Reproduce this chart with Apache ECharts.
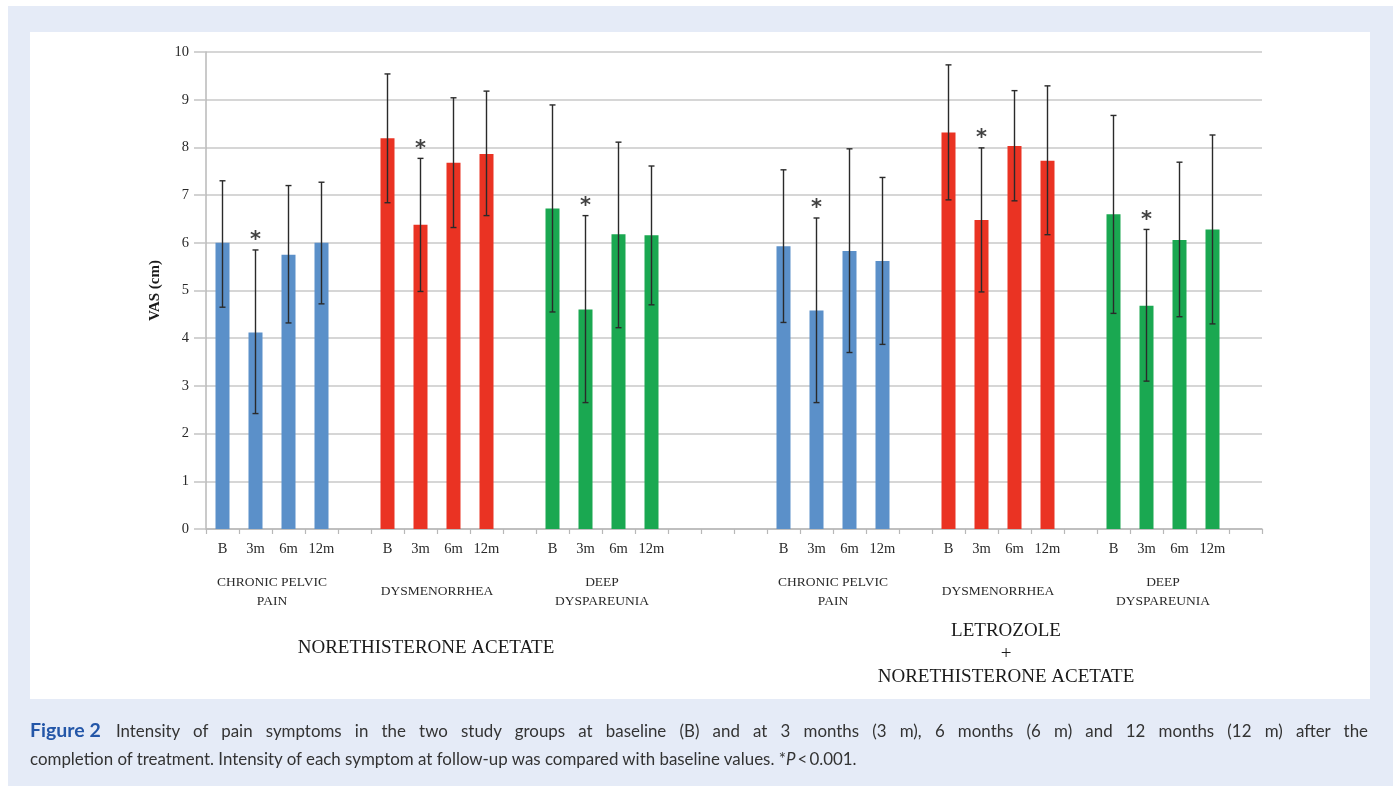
<!DOCTYPE html>
<html>
<head>
<meta charset="utf-8">
<script src="https://cdn.jsdelivr.net/npm/echarts@6/dist/echarts.min.js"></script>
<style>
html,body{margin:0;padding:0;background:#fff;}
#page{position:relative;width:1393px;height:786px;overflow:hidden;}
#frame{position:absolute;left:8px;top:6px;right:0;bottom:0;background:#e5ebf7;}
#panel{position:absolute;left:30px;top:32px;width:1340px;height:667px;background:#fff;}
#chart{position:absolute;left:0;top:0;width:1393px;height:786px;}
#caption{position:absolute;left:30px;top:716px;width:1338px;font-family:Lato,"Open Sans",sans-serif;font-size:16.9px;line-height:28px;color:#333;}
#caption div{white-space:nowrap;}
#caption .l1{text-align:justify;text-align-last:justify;white-space:normal;}
#caption b{display:inline-block;color:#2356a8;font-size:19.5px;margin-right:2px;}
</style>
</head>
<body>
<div id="page">
<div id="frame"></div>
<div id="panel"></div>
<div id="chart"></div>
<div id="caption"><div class="l1"><b>Figure 2</b> Intensity of pain symptoms in the two study groups at baseline (B) and at 3 months (3 m), 6 months (6 m) and 12 months (12 m) after the</div><div>completion of treatment. Intensity of each symptom at follow-up was compared with baseline values. *<i>P</i>&thinsp;&lt;&thinsp;0.001.</div></div>
</div>
<script>
var timepoints=['B','3m','6m','12m'];
var symptoms=['CHRONIC PELVIC\nPAIN','DYSMENORRHEA','DEEP\nDYSPAREUNIA'];
var groups=['NORETHISTERONE ACETATE','LETROZOLE\n+\nNORETHISTERONE ACETATE'];
var colors=['#5b90c9','#ea3323','#1aa851'];

// per group: CPP(B,3m,6m,12m), DYS(...), DD(...)
var netaMean=[6.00,4.12,5.75,6.00, 8.19,6.38,7.68,7.86, 6.72,4.60,6.18,6.16];
var netaLow =[4.65,2.42,4.32,4.72, 6.84,4.98,6.32,6.57, 4.55,2.65,4.22,4.70];
var netaHigh=[7.30,5.85,7.20,7.27, 9.54,7.77,9.04,9.18, 8.89,6.57,8.11,7.61];
var letMean =[5.93,4.58,5.83,5.62, 8.31,6.48,8.03,7.72, 6.60,4.68,6.06,6.28];
var letLow  =[4.33,2.65,3.70,3.87, 6.90,4.97,6.88,6.17, 4.52,3.10,4.45,4.30];
var letHigh =[7.53,6.52,7.97,7.37, 9.73,7.99,9.19,9.29, 8.67,6.28,7.69,8.26];
var signif  =[false,true,false,false];

var yTicks=[0,1,2,3,4,5,6,7,8,9,10];

// slot layout: gap after each symptom block inside a group, wider gap between groups
var innerGap=1, groupGap=3, tailGap=1;

var cats=[], barData=[], errData=[], starData=[], symBlocks=[], grpBlocks=[];
[[netaMean,netaLow,netaHigh],[letMean,letLow,letHigh]].forEach(function(g,gi){
  var gStart=cats.length;
  symptoms.forEach(function(s,si){
    var sStart=cats.length;
    timepoints.forEach(function(t,ti){
      var k=si*4+ti, idx=cats.length;
      cats.push(t);
      barData.push({value:g[0][k],itemStyle:{color:colors[si]}});
      errData.push([idx,g[1][k],g[2][k]]);
      if(signif[ti]) starData.push([idx,g[2][k]]);
    });
    symBlocks.push({name:s,a:sStart,b:cats.length-1});
    if(si<symptoms.length-1){
      for(var i=0;i<innerGap;i++){cats.push('');barData.push('-');}
    }
  });
  grpBlocks.push({name:groups[gi],a:gStart,b:cats.length-1});
  var gap=gi<1?groupGap:tailGap;
  for(var i=0;i<gap;i++){cats.push('');barData.push('-');}
});

var serif='"Liberation Serif","DejaVu Serif",serif';
var chart=echarts.init(document.getElementById('chart'),null,{renderer:'canvas'});
var option={
  backgroundColor:'transparent',
  animation:false,
  grid:{left:206,right:131,top:52,bottom:257},
  xAxis:{
    type:'category',data:cats,
    axisLine:{lineStyle:{color:'#b8b8b8',width:1.5}},
    axisTick:{show:true,interval:0,length:5,lineStyle:{color:'#b8b8b8',width:1.2}},
    axisLabel:{interval:0,margin:13,fontFamily:serif,fontSize:14.5,color:'#2a2a2a'},
    splitLine:{show:false}
  },
  yAxis:{
    type:'value',min:yTicks[0],max:yTicks[yTicks.length-1],interval:1,
    name:'VAS (cm)',nameLocation:'middle',nameGap:43,nameRotate:90,
    nameTextStyle:{fontFamily:serif,fontSize:15,fontWeight:'bold',color:'#1a1a1a'},
    axisLine:{show:true,lineStyle:{color:'#b8b8b8',width:1.5}},
    axisTick:{show:true,length:12,inside:false,lineStyle:{color:'#c4c4c4',width:1.5}},
    axisLabel:{margin:17,fontFamily:serif,fontSize:14.5,color:'#2a2a2a'},
    splitLine:{lineStyle:{color:'#c8c8c8',width:1.5}}
  },
  series:[
    {type:'bar',data:barData,barWidth:14,z:2},
    {type:'custom',z:3,data:errData,
      renderItem:function(params,api){
        var x=api.value(0);
        var p1=api.coord([x,api.value(1)]), p2=api.coord([x,api.value(2)]);
        var st={stroke:'#2a2a2a',lineWidth:1.4};
        return {type:'group',children:[
          {type:'line',shape:{x1:p1[0],y1:p1[1],x2:p2[0],y2:p2[1]},style:st},
          {type:'line',shape:{x1:p1[0]-3,y1:p1[1],x2:p1[0]+3,y2:p1[1]},style:st},
          {type:'line',shape:{x1:p2[0]-3,y1:p2[1],x2:p2[0]+3,y2:p2[1]},style:st}
        ]};
      }},
    {type:'scatter',data:starData,symbolSize:1,itemStyle:{color:'transparent'},z:4,
      label:{show:true,position:'top',distance:-2,formatter:'*',fontFamily:'DejaVu Sans',fontSize:21,fontWeight:'bold',color:'#111'}}
  ]
};
chart.setOption(option);

// group labels placed from the axis positions
var gfx=[];
symBlocks.forEach(function(b){
  var xa=chart.convertToPixel({xAxisIndex:0},b.a), xb=chart.convertToPixel({xAxisIndex:0},b.b);
  var two=b.name.indexOf('\n')>=0;
  gfx.push({type:'text',x:(xa+xb)/2,y:two?573:582,
    style:{text:b.name,fontFamily:serif,fontSize:13.5,lineHeight:19,fill:'#2a2a2a',align:'center',verticalAlign:'top'}});
});
grpBlocks.forEach(function(b,i){
  var xa=chart.convertToPixel({xAxisIndex:0},b.a), xb=chart.convertToPixel({xAxisIndex:0},b.b);
  gfx.push({type:'text',x:(xa+xb)/2+(i==0?-11:8),y:i==0?637:620,
    style:{text:b.name,fontFamily:serif,fontSize:19,lineHeight:23,fill:'#1a1a1a',align:'center',verticalAlign:'top'}});
});
chart.setOption({graphic:gfx});
</script>
</body>
</html>
